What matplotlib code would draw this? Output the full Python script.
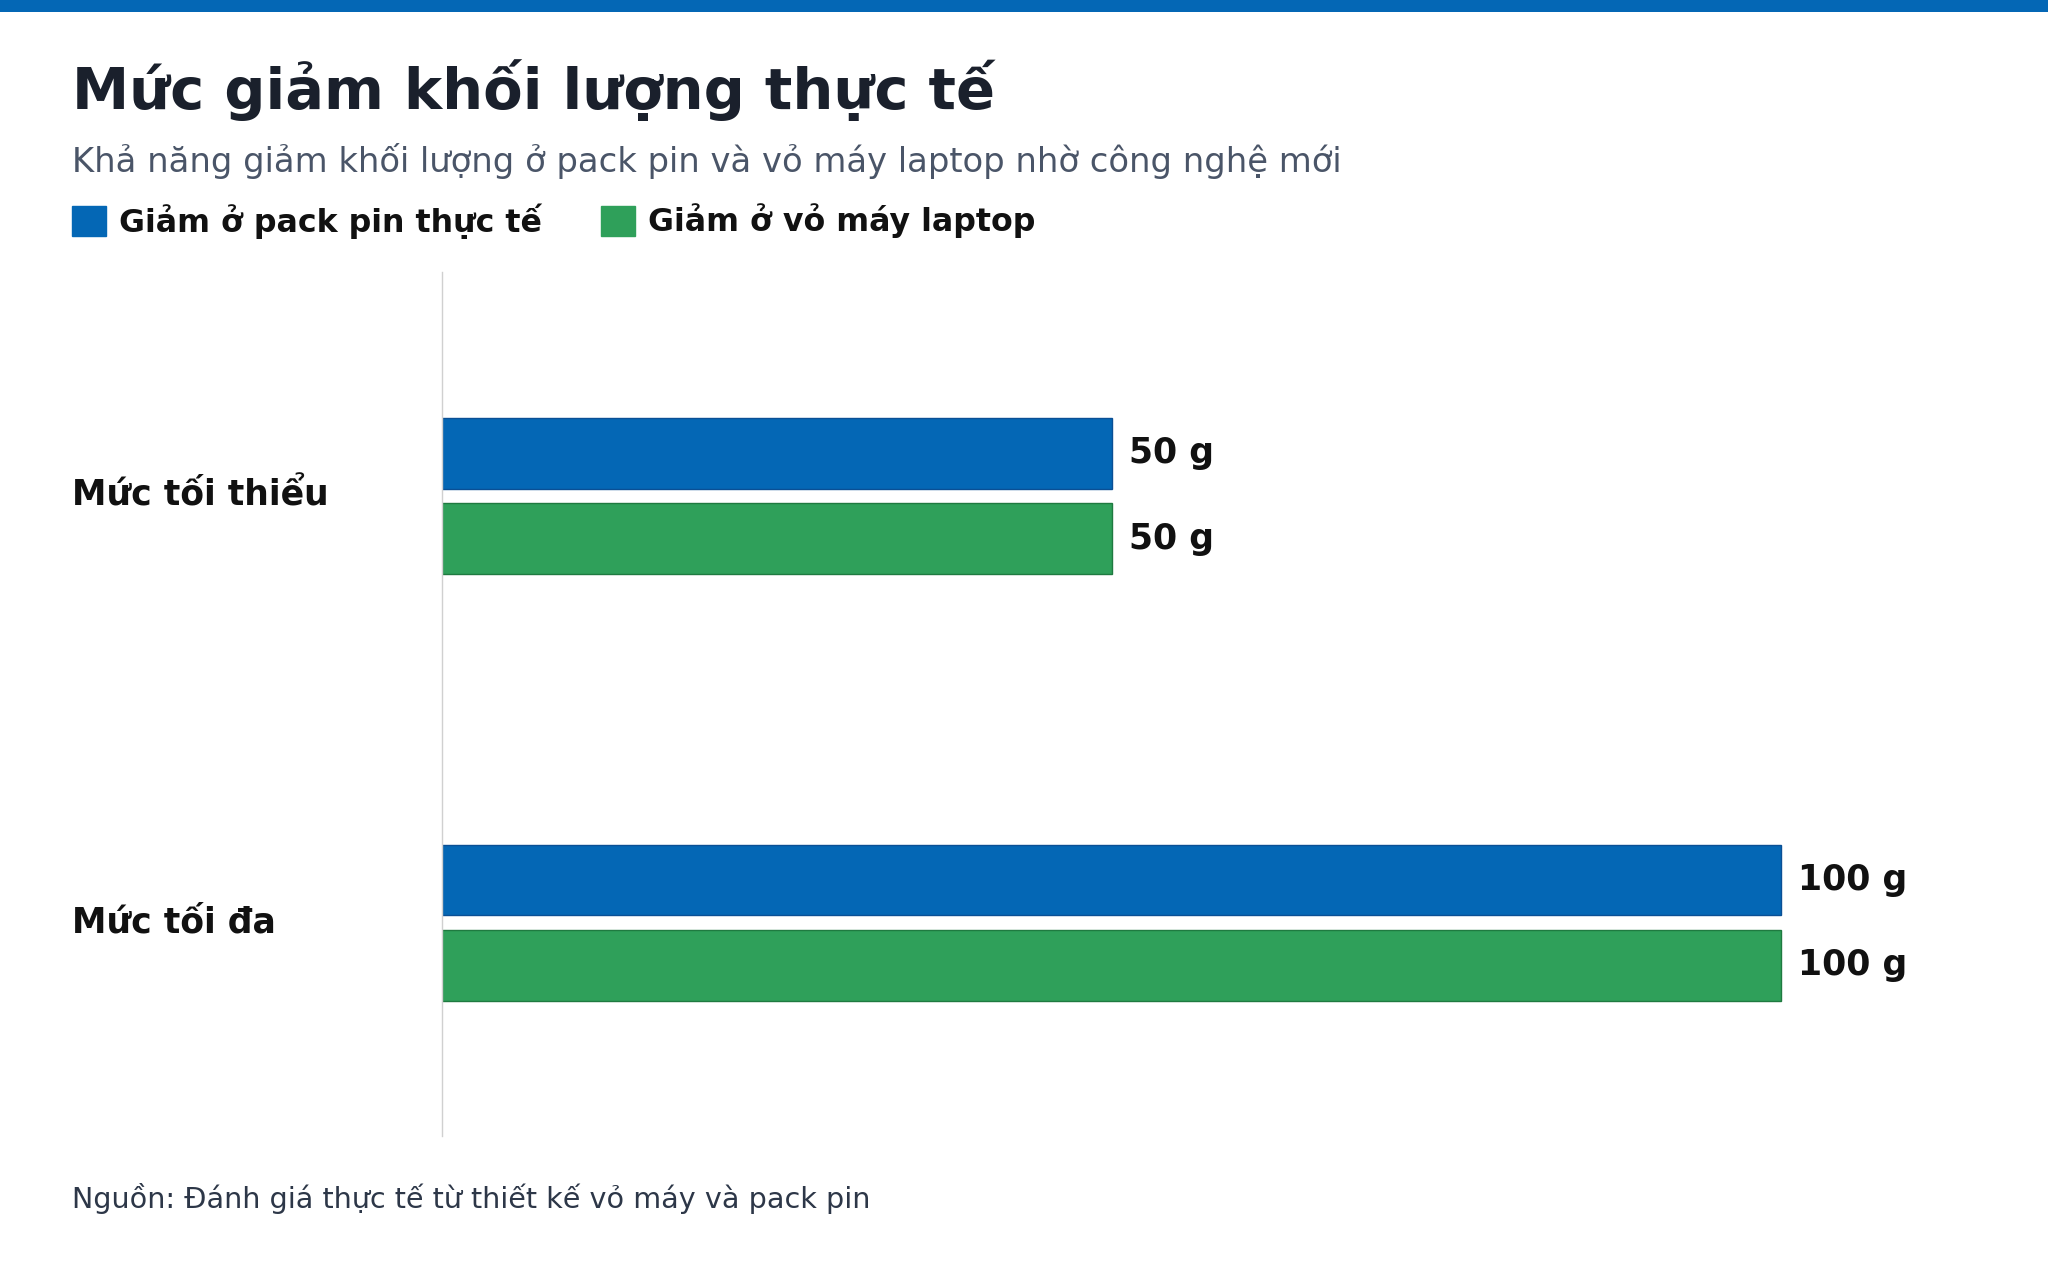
import numpy as np
import matplotlib.pyplot as plt
from matplotlib.transforms import blended_transform_factory
from matplotlib.patches import Rectangle

plt.rcParams['font.family'] = ['DejaVu Sans']

categories = ['Mức tối thiểu', 'Mức tối đa']
series_names = ['Giảm ở pack pin thực tế', 'Giảm ở vỏ máy laptop']
pack_pin = [50, 100]
vo_may = [50, 100]
unit = 'g'

blue = '#0467b5'
green = '#2fa05a'
title_col = '#1a202c'
sub_col = '#4a5568'

fig = plt.figure(figsize=(20.48, 12.8), dpi=100)
fig.patch.set_facecolor('white')

# top strip
fig.add_artist(Rectangle((0, 1 - 12/1280), 1, 12/1280, transform=fig.transFigure,
                         facecolor='#0467b5', edgecolor='none'))

fig.text(72/2048, 1 - 109/1280, 'Mức giảm khối lượng thực tế', fontsize=41.4,
         fontweight='bold', color=title_col, ha='left', va='baseline')
fig.text(72/2048, 1 - 172/1280, 'Khả năng giảm khối lượng ở pack pin và vỏ máy laptop nhờ công nghệ mới',
         fontsize=24.3, color=sub_col, ha='left', va='baseline')

# legend
leg_x = [72, 601]
for i, name in enumerate(series_names):
    col = [blue, green][i]
    fig.add_artist(Rectangle((leg_x[i]/2048, 1 - 236/1280), 34/2048, 30/1280,
                             transform=fig.transFigure, facecolor=col,
                             edgecolor=col))
    fig.text((leg_x[i] + 47)/2048, 1 - 221/1280, name, fontsize=22.8,
             fontweight='bold', color='#111111', ha='left', va='center')

ax = fig.add_axes([442/2048, 144/1280, (1915 - 442)/2048, (1136 - 272)/1280])
y = np.arange(len(categories))
h = 0.166
ax.barh(y - 0.1, pack_pin, height=h, color=blue, edgecolor='#0a4f95', linewidth=1)
ax.barh(y + 0.1, vo_may, height=h, color=green, edgecolor='#1f7a40', linewidth=1)
ax.set_xlim(0, 110)
ax.set_ylim(1.5, -0.525)

for yy, v in zip(y - 0.1, pack_pin):
    ax.text(v + 1.3, yy, f'{v} {unit}', fontsize=25, fontweight='bold',
            color='#111111', va='center', ha='left')
for yy, v in zip(y + 0.1, vo_may):
    ax.text(v + 1.3, yy, f'{v} {unit}', fontsize=25, fontweight='bold',
            color='#111111', va='center', ha='left')

tr = blended_transform_factory(fig.transFigure, ax.transData)
for yy, c in zip(y, categories):
    fig.text(72/2048, yy, c, transform=tr, fontsize=24.9, fontweight='bold',
             color='#111111', ha='left', va='center')

for s in ['top', 'right', 'bottom']:
    ax.spines[s].set_visible(False)
ax.spines['left'].set_color('#d0d0d0')
ax.spines['left'].set_linewidth(1)
ax.set_xticks([])
ax.set_yticks([])

fig.text(72/2048, 1 - 1199/1280, 'Nguồn: Đánh giá thực tế từ thiết kế vỏ máy và pack pin',
         fontsize=20.6, color='#2d3748', ha='left', va='center')

fig.savefig('out.png', dpi=100, facecolor='white')
